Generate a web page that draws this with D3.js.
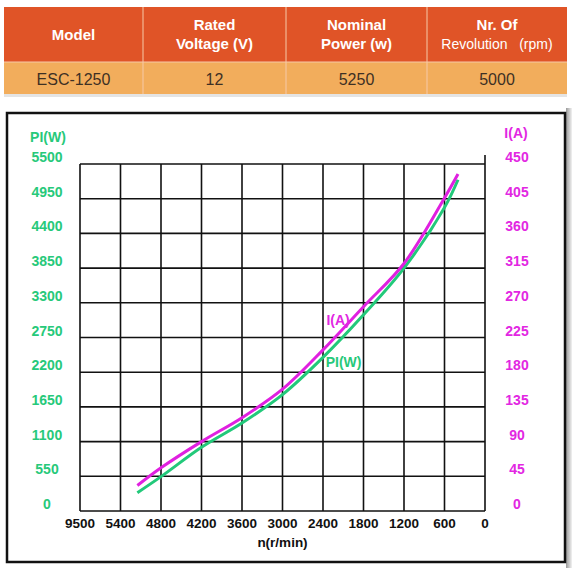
<!DOCTYPE html>
<html lang="en">
<head>
    <meta charset="UTF-8">
    <title>ESC-1250 characteristic</title>
    <style>
        body { margin: 0; background: #fff; }
        svg { display: block; font-family: "Liberation Sans", Arial, sans-serif; }
        .grid line { stroke: #111; stroke-width: 1.6px; }
        .tick-w { fill: #27c97a; font-size: 14px; font-weight: bold; }
        .tick-a { fill: #e227e2; font-size: 14px; font-weight: bold; }
        .tick-n { fill: #111; font-size: 13.5px; font-weight: bold; }
    </style>
    <script src="https://d3js.org/d3.v7.min.js"></script>
</head>
<body>
    <script>
        // table
        const headers = [["Model"], ["Rated", "Voltage (V)"], ["Nominal", "Power (w)"], ["Nr. Of", "Revolution\u00a0\u00a0\u00a0(rpm)"]];
        const rowValues = ["ESC-1250", "12", "5250", "5000"];

        // chart
        const rpm = [5150, 4800, 4200, 3600, 3000, 2400, 1800, 1200, 600, 400];
        const powerW = [290, 545, 1010, 1395, 1845, 2435, 3110, 3850, 4810, 5250];
        const currentA = [33, 56, 90, 121, 158, 209, 265, 321, 406, 437];

        const xTicks = [6000, 5400, 4800, 4200, 3600, 3000, 2400, 1800, 1200, 600, 0];
        const xTickLabels = ["9500", "5400", "4800", "4200", "3600", "3000", "2400", "1800", "1200", "600", "0"];
        const wTicks = [0, 550, 1100, 1650, 2200, 2750, 3300, 3850, 4400, 4950, 5500];
        const aTicks = [0, 45, 90, 135, 180, 225, 270, 315, 360, 405, 450];

        const svg = d3.select("body").append("svg")
            .attr("width", 572).attr("height", 572);

        // ---- spec table ----
        const colEdges = [4, 143, 286, 427, 567];
        const table = svg.append("g");
        table.append("rect").attr("x", 4).attr("y", 7).attr("width", 563).attr("height", 55).attr("fill", "#e05427");
        table.append("rect").attr("x", 4).attr("y", 62).attr("width", 563).attr("height", 32).attr("fill", "#f2ad5c");
        table.append("rect").attr("x", 4).attr("y", 94).attr("width", 563).attr("height", 3).attr("fill", "#e4e4e4");
        table.selectAll("line.div")
            .data(colEdges.slice(1, -1))
            .enter().append("line")
            .attr("x1", d => d).attr("x2", d => d)
            .attr("y1", 7).attr("y2", 94)
            .attr("stroke", "#f6c9a8").attr("stroke-width", 1);
        table.append("line").attr("x1", 4).attr("x2", 567).attr("y1", 62).attr("y2", 62)
            .attr("stroke", "#f6c9a8").attr("stroke-width", 1);

        headers.forEach((lines, i) => {
            const cx = (colEdges[i] + colEdges[i + 1]) / 2;
            const t = table.append("text")
                .attr("x", cx).attr("text-anchor", "middle")
                .attr("fill", "#fff").attr("font-weight", "bold").attr("font-size", 15);
            if (lines.length === 1) {
                t.attr("y", 40).text(lines[0]);
            } else {
                t.append("tspan").attr("x", cx).attr("y", 30).text(lines[0]);
                t.append("tspan").attr("x", cx).attr("y", 49).text(lines[1])
                    .attr("font-weight", i === 3 ? "normal" : "bold")
                    .attr("font-size", i === 3 ? 14 : 15);
            }
        });
        table.selectAll("text.val")
            .data(rowValues)
            .enter().append("text")
            .attr("x", (d, i) => (colEdges[i] + colEdges[i + 1]) / 2)
            .attr("y", 85)
            .attr("text-anchor", "middle")
            .attr("fill", "#3e3024")
            .attr("font-size", 16)
            .text(d => d);

        // ---- chart frame ----
        const defs = svg.append("defs");
        const grad = defs.append("linearGradient").attr("id", "shade");
        grad.append("stop").attr("offset", "0%").attr("stop-color", "#9a9a9a");
        grad.append("stop").attr("offset", "100%").attr("stop-color", "#f2f2f2");
        svg.append("rect").attr("x", 566).attr("y", 108).attr("width", 6).attr("height", 460).attr("fill", "url(#shade)");
        svg.append("rect")
            .attr("x", 7).attr("y", 113).attr("width", 558).attr("height", 449)
            .attr("fill", "#fff").attr("stroke", "#111").attr("stroke-width", 2.5);

        const x = d3.scaleLinear().domain([6000, 0]).range([80, 485]);
        const yW = d3.scaleLinear().domain([0, 5500]).range([511, 164]);
        const yA = d3.scaleLinear().domain([0, 450]).range([511, 164]);

        const grid = svg.append("g").attr("class", "grid");
        grid.selectAll("line.h")
            .data(wTicks)
            .enter().append("line")
            .attr("x1", x(6000)).attr("x2", x(0))
            .attr("y1", d => yW(d)).attr("y2", d => yW(d));
        grid.selectAll("line.v")
            .data(xTicks)
            .enter().append("line")
            .attr("x1", d => x(d)).attr("x2", d => x(d))
            .attr("y1", d => d === 0 ? yW(5500) - 9 : yW(5500))
            .attr("y2", yW(0));

        // left axis (power)
        svg.selectAll("text.tw")
            .data(wTicks)
            .enter().append("text")
            .attr("class", "tick-w")
            .attr("x", 47).attr("y", d => yW(d) - 2)
            .attr("text-anchor", "middle")
            .text(d => d);
        svg.append("text").attr("class", "tick-w")
            .attr("x", 48).attr("y", 142).attr("text-anchor", "middle").text("PI(W)");

        // right axis (current)
        svg.selectAll("text.ta")
            .data(aTicks)
            .enter().append("text")
            .attr("class", "tick-a")
            .attr("x", 517).attr("y", d => yA(d) - 2)
            .attr("text-anchor", "middle")
            .text(d => d);
        svg.append("text").attr("class", "tick-a")
            .attr("x", 516).attr("y", 138).attr("text-anchor", "middle").text("I(A)");

        // bottom axis
        svg.selectAll("text.tn")
            .data(xTicks)
            .enter().append("text")
            .attr("class", "tick-n")
            .attr("x", d => x(d)).attr("y", 528)
            .attr("text-anchor", "middle")
            .text((d, i) => xTickLabels[i]);
        svg.append("text").attr("class", "tick-n")
            .attr("x", x(3000)).attr("y", 547).attr("text-anchor", "middle")
            .attr("font-size", 12.5).text("n(r/min)");

        // curves
        const lineW = d3.line().x((d, i) => x(rpm[i])).y(d => yW(d)).curve(d3.curveCatmullRom);
        const lineA = d3.line().x((d, i) => x(rpm[i])).y(d => yA(d)).curve(d3.curveCatmullRom);

        svg.append("path").datum(powerW)
            .attr("d", lineW)
            .attr("fill", "none").attr("stroke", "#22c97a").attr("stroke-width", 3);
        svg.append("path").datum(currentA)
            .attr("d", lineA)
            .attr("fill", "none").attr("stroke", "#e020e0").attr("stroke-width", 3);

        svg.append("text").attr("class", "tick-a")
            .attr("x", x(2350)).attr("y", yA(241)).attr("font-size", 13).text("I(A)");
        svg.append("text").attr("class", "tick-w")
            .attr("x", x(2360)).attr("y", yW(2282)).attr("font-size", 13).text("PI(W)");
    </script>
</body>
</html>
